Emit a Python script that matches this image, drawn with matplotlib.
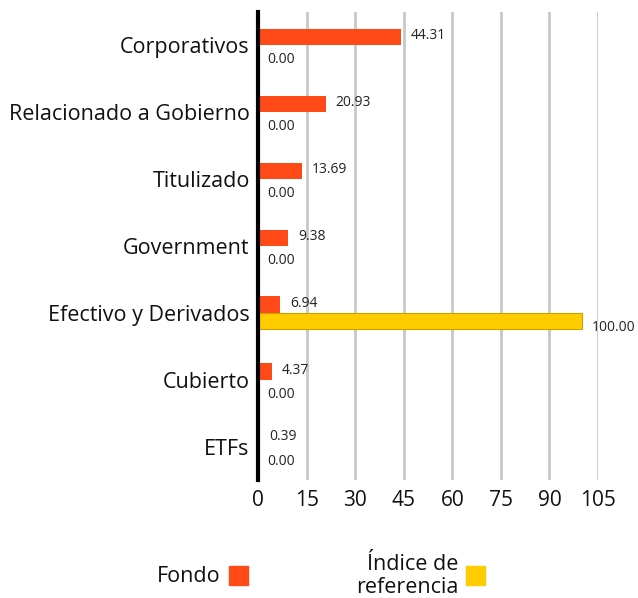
import matplotlib
matplotlib.use("Agg")
import matplotlib.pyplot as plt
from matplotlib.patches import Rectangle
import numpy as np

categories = ["Corporativos", "Relacionado a Gobierno", "Titulizado", "Government",
              "Efectivo y Derivados", "Cubierto", "ETFs"]
fondo = [44.31, 20.93, 13.69, 9.38, 6.94, 4.37, 0.39]
indice = [0.00, 0.00, 0.00, 0.00, 100.00, 0.00, 0.00]
xticks = [0, 15, 30, 45, 60, 75, 90, 105]
series_names = ["Fondo", "Índice de\nreferencia"]

c_fondo = "#FF4A17"
c_idx = "#FFCC00"
c_idx_edge = "#C9A200"

plt.rcParams['font.family'] = ['Open Sans', 'DejaVu Sans']

fig = plt.figure(figsize=(6.38, 5.98), dpi=100)
ax = fig.add_axes([258/638, 1-480/598, (598-258)/638, (480-12)/598])

y = np.arange(len(categories))
h = 0.245
ax.barh(y - h/2, fondo, height=h, color=c_fondo, zorder=3)
ax.barh(y + h/2, indice, height=h, color=c_idx, edgecolor=c_idx_edge, linewidth=0.8, zorder=3)

for yi, v in zip(y, fondo):
    ax.annotate(f"{v:.2f}", (v, yi - h/2), xytext=(7, 1), textcoords="offset points",
                ha="left", va="center", fontsize=10, color="#222222")
for yi, v in zip(y, indice):
    ax.annotate(f"{v:.2f}", (v, yi + h/2), xytext=(7, -4.5), textcoords="offset points",
                ha="left", va="center", fontsize=10, color="#222222")

ax.set_ylim(len(categories) - 0.5, -0.5)
ax.set_xlim(0, 105)
ax.set_xticks(xticks)
ax.set_xticklabels([str(t) for t in xticks], fontsize=15)
ax.set_yticks(y)
ax.set_yticklabels(categories, fontsize=15.5)
ax.tick_params(axis="both", length=0, pad=6, colors="#111111")
ax.tick_params(axis="x", pad=7)

ax.grid(axis="x", color="#C8C8C8", linewidth=2, zorder=0)
ax.set_axisbelow(True)
for s in ["top", "right", "bottom"]:
    ax.spines[s].set_visible(False)
ax.spines["left"].set_linewidth(3)
ax.spines["left"].set_color("black")
ax.spines["left"].set_zorder(5)

# legend
fig.text(220/638, 1-577/598, series_names[0], ha="right", va="center", fontsize=15.5, color="#111111")
fig.patches.append(Rectangle((229/638, 1-585/598), 19/638, 19/598, transform=fig.transFigure,
                             color=c_fondo, figure=fig))
fig.text(458/638, 1-576/598, series_names[1], ha="right", va="center", fontsize=15.5,
         color="#111111", multialignment="right", linespacing=1.1)
fig.patches.append(Rectangle((466/638, 1-585/598), 19/638, 19/598, transform=fig.transFigure,
                             color=c_idx, figure=fig))

fig.savefig("out.png", dpi=100)
